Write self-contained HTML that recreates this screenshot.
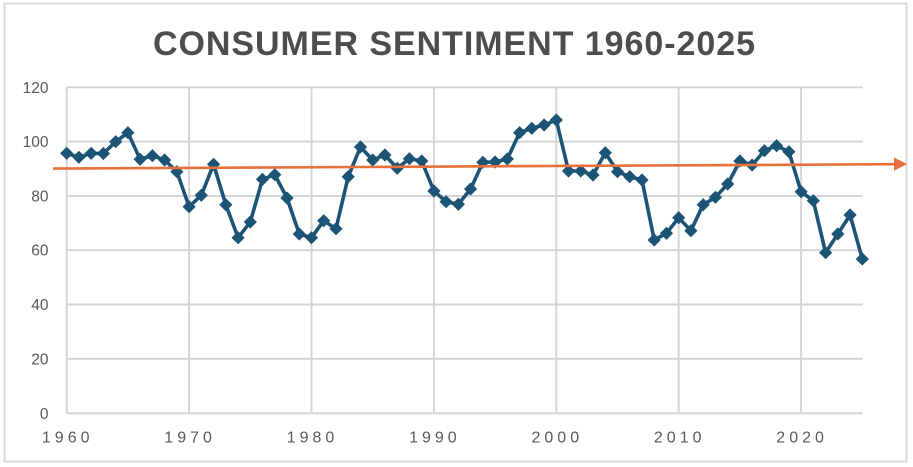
<!DOCTYPE html>
<html>
<head>
<meta charset="utf-8">
<style>
  html,body{margin:0;padding:0;background:#fff;}
  body{width:913px;height:467px;overflow:hidden;}
  svg{display:block;}
</style>
</head>
<body>
<svg width="913" height="467" viewBox="0 0 913 467" xmlns="http://www.w3.org/2000/svg">
  <rect x="0" y="0" width="913" height="467" fill="#fff"/>
  <!-- outer frame -->
  <rect x="4.5" y="3.5" width="902" height="458" fill="none" stroke="#d9d9d9" stroke-width="2"/>

  <!-- title -->
  <text x="153" y="55" font-family="Liberation Sans, Arial, sans-serif" font-weight="bold" font-size="34" fill="#4d4d4d" textLength="602" lengthAdjust="spacing">CONSUMER SENTIMENT 1960-2025</text>

  <!-- gridlines -->
  <g stroke="#d4d4d4" stroke-width="1.9" fill="none">
    <line x1="66.7" y1="87.3" x2="862.7" y2="87.3"/>
    <line x1="66.7" y1="141.6" x2="862.7" y2="141.6"/>
    <line x1="66.7" y1="195.9" x2="862.7" y2="195.9"/>
    <line x1="66.7" y1="250.2" x2="862.7" y2="250.2"/>
    <line x1="66.7" y1="304.5" x2="862.7" y2="304.5"/>
    <line x1="66.7" y1="358.8" x2="862.7" y2="358.8"/>
    <line x1="66.7" y1="413.3" x2="862.7" y2="413.3"/>
    <line x1="66.7" y1="87.3" x2="66.7" y2="413.3"/>
    <line x1="189.1" y1="87.3" x2="189.1" y2="413.3"/>
    <line x1="311.5" y1="87.3" x2="311.5" y2="413.3"/>
    <line x1="433.9" y1="87.3" x2="433.9" y2="413.3"/>
    <line x1="556.3" y1="87.3" x2="556.3" y2="413.3"/>
    <line x1="678.7" y1="87.3" x2="678.7" y2="413.3"/>
    <line x1="801.1" y1="87.3" x2="801.1" y2="413.3"/>
  </g>

  <!-- y labels -->
  <g font-family="Liberation Sans, Arial, sans-serif" font-size="15.5" fill="#595959" text-anchor="end">
    <text x="48.5" y="92.8">120</text>
    <text x="48.5" y="147.1">100</text>
    <text x="48.5" y="201.4">80</text>
    <text x="48.5" y="255.7">60</text>
    <text x="48.5" y="310">40</text>
    <text x="48.5" y="364.3">20</text>
    <text x="48.5" y="418.8">0</text>
  </g>

  <!-- x labels -->
  <g font-family="Liberation Sans, Arial, sans-serif" font-size="16" fill="#595959">
    <text x="41.9" y="442.7" textLength="47.6" lengthAdjust="spacing">1960</text>
    <text x="164.3" y="442.7" textLength="47.6" lengthAdjust="spacing">1970</text>
    <text x="286.7" y="442.7" textLength="47.6" lengthAdjust="spacing">1980</text>
    <text x="409.1" y="442.7" textLength="47.6" lengthAdjust="spacing">1990</text>
    <text x="531.5" y="442.7" textLength="47.6" lengthAdjust="spacing">2000</text>
    <text x="653.9" y="442.7" textLength="47.6" lengthAdjust="spacing">2010</text>
    <text x="776.3" y="442.7" textLength="47.6" lengthAdjust="spacing">2020</text>
  </g>

  <!-- data line -->
  <polyline fill="none" stroke="#1c5475" stroke-width="3.6" stroke-linejoin="round" points="
66.7,153.3 78.9,157.3 91.2,153.3 103.4,153.5 115.7,141.7 127.9,132.7 140.1,159.3 152.4,155.7 164.6,160 176.9,171.7
189.1,206.7 201.3,195.3 213.6,164.3 225.8,204.7 238.1,237.7 250.3,222 262.5,179.3 274.8,174.7 287.0,198 299.3,234
311.5,237.7 323.7,220.7 336.0,228.7 348.2,176.7 360.5,147 372.7,160 384.9,155 397.2,168.3 409.4,158.7 421.7,161
433.9,191 446.1,201.7 458.4,204.3 470.6,189 482.9,162.3 495.1,162 507.3,159 519.6,132.7 531.8,128.3 544.1,125
556.3,120 568.5,171 580.8,171 593.0,175 605.3,152.7 617.5,171.7 629.7,176.7 642.0,180 654.2,240 666.5,233.3
678.7,217.7 690.9,230.7 703.2,204.7 715.4,197.3 727.7,184 739.9,161 752.1,165 764.4,150.7 776.6,145.7 788.9,151.7
801.1,191.7 813.3,200.7 825.6,252.7 837.8,234 850.1,215 862.3,259"/>

  <!-- markers -->
  <defs>
    <path id="d" d="M0,-6.6 L6.6,0 L0,6.6 L-6.6,0 Z" fill="#1c5475"/>
  </defs>
  <g>
    <use href="#d" x="66.7" y="153.3"/><use href="#d" x="78.9" y="157.3"/><use href="#d" x="91.2" y="153.3"/><use href="#d" x="103.4" y="153.5"/><use href="#d" x="115.7" y="141.7"/><use href="#d" x="127.9" y="132.7"/><use href="#d" x="140.1" y="159.3"/><use href="#d" x="152.4" y="155.7"/><use href="#d" x="164.6" y="160"/><use href="#d" x="176.9" y="171.7"/>
    <use href="#d" x="189.1" y="206.7"/><use href="#d" x="201.3" y="195.3"/><use href="#d" x="213.6" y="164.3"/><use href="#d" x="225.8" y="204.7"/><use href="#d" x="238.1" y="237.7"/><use href="#d" x="250.3" y="222"/><use href="#d" x="262.5" y="179.3"/><use href="#d" x="274.8" y="174.7"/><use href="#d" x="287.0" y="198"/><use href="#d" x="299.3" y="234"/>
    <use href="#d" x="311.5" y="237.7"/><use href="#d" x="323.7" y="220.7"/><use href="#d" x="336.0" y="228.7"/><use href="#d" x="348.2" y="176.7"/><use href="#d" x="360.5" y="147"/><use href="#d" x="372.7" y="160"/><use href="#d" x="384.9" y="155"/><use href="#d" x="397.2" y="168.3"/><use href="#d" x="409.4" y="158.7"/><use href="#d" x="421.7" y="161"/>
    <use href="#d" x="433.9" y="191"/><use href="#d" x="446.1" y="201.7"/><use href="#d" x="458.4" y="204.3"/><use href="#d" x="470.6" y="189"/><use href="#d" x="482.9" y="162.3"/><use href="#d" x="495.1" y="162"/><use href="#d" x="507.3" y="159"/><use href="#d" x="519.6" y="132.7"/><use href="#d" x="531.8" y="128.3"/><use href="#d" x="544.1" y="125"/>
    <use href="#d" x="556.3" y="120"/><use href="#d" x="568.5" y="171"/><use href="#d" x="580.8" y="171"/><use href="#d" x="593.0" y="175"/><use href="#d" x="605.3" y="152.7"/><use href="#d" x="617.5" y="171.7"/><use href="#d" x="629.7" y="176.7"/><use href="#d" x="642.0" y="180"/><use href="#d" x="654.2" y="240"/><use href="#d" x="666.5" y="233.3"/>
    <use href="#d" x="678.7" y="217.7"/><use href="#d" x="690.9" y="230.7"/><use href="#d" x="703.2" y="204.7"/><use href="#d" x="715.4" y="197.3"/><use href="#d" x="727.7" y="184"/><use href="#d" x="739.9" y="161"/><use href="#d" x="752.1" y="165"/><use href="#d" x="764.4" y="150.7"/><use href="#d" x="776.6" y="145.7"/><use href="#d" x="788.9" y="151.7"/>
    <use href="#d" x="801.1" y="191.7"/><use href="#d" x="813.3" y="200.7"/><use href="#d" x="825.6" y="252.7"/><use href="#d" x="837.8" y="234"/><use href="#d" x="850.1" y="215"/><use href="#d" x="862.3" y="259"/>
  </g>

  <!-- orange trend arrow -->
  <line x1="53" y1="168.6" x2="896" y2="164.2" stroke="#e8703a" stroke-width="2.6"/>
  <polygon points="894,157.4 907,164.1 894,170.8" fill="#e8703a"/>
</svg>
</body>
</html>
